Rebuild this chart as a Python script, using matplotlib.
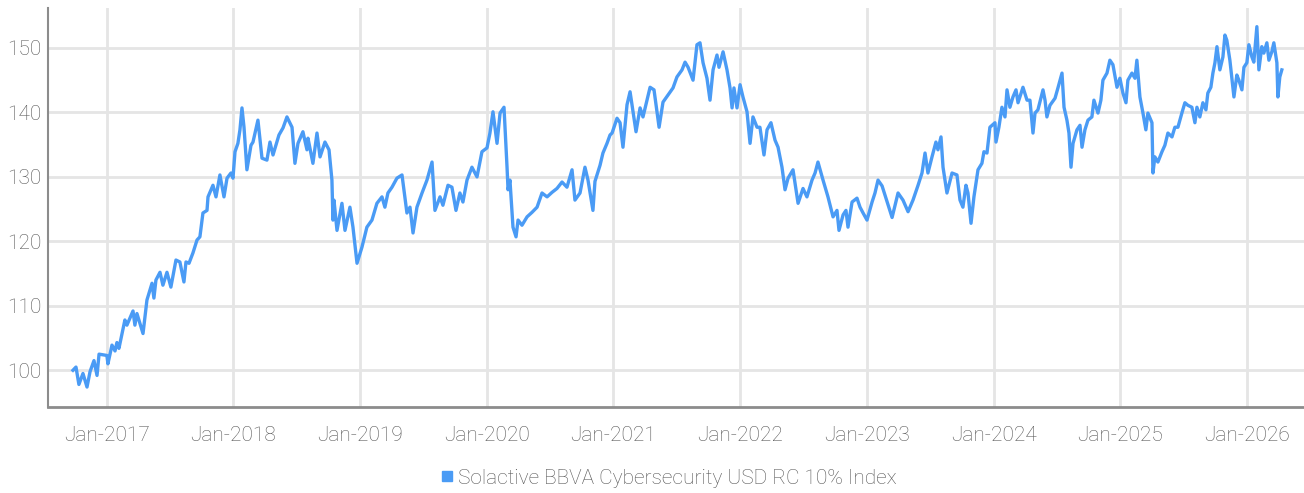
import matplotlib
matplotlib.use("Agg")
import matplotlib.pyplot as plt
from matplotlib.lines import Line2D
from matplotlib import font_manager

SERIES_NAME = "Solactive BBVA Cybersecurity USD RC 10% Index"
LINE_COLOR = "#4A9BF5"

# time in years after 1 Jan 2017
years_from_2017 = [
    -0.266, -0.242, -0.219, -0.187, -0.155, -0.131, -0.100, -0.076, -0.060, 0.002,
    0.010, 0.042, 0.066, 0.081, 0.097, 0.144, 0.160, 0.208, 0.223, 0.239,
    0.287, 0.318, 0.358, 0.373, 0.389, 0.421, 0.444, 0.476, 0.507, 0.547,
    0.578, 0.610, 0.626, 0.650, 0.681, 0.713, 0.736, 0.760, 0.792, 0.800,
    0.839, 0.863, 0.894, 0.926, 0.950, 0.981, 0.997, 1.013, 1.036, 1.052,
    1.068, 1.084, 1.107, 1.139, 1.155, 1.194, 1.226, 1.265, 1.289, 1.313,
    1.360, 1.392, 1.423, 1.463, 1.486, 1.510, 1.549, 1.581, 1.589, 1.628,
    1.660, 1.684, 1.723, 1.755, 1.778, 1.786, 1.794, 1.818, 1.857, 1.881,
    1.920, 1.944, 1.976, 2.015, 2.054, 2.094, 2.133, 2.173, 2.196, 2.220,
    2.252, 2.291, 2.331, 2.370, 2.394, 2.418, 2.449, 2.489, 2.528, 2.568,
    2.591, 2.631, 2.654, 2.694, 2.725, 2.757, 2.788, 2.812, 2.844, 2.883,
    2.923, 2.962, 3.002, 3.025, 3.049, 3.081, 3.105, 3.136, 3.160, 3.168,
    3.183, 3.207, 3.231, 3.247, 3.278, 3.318, 3.357, 3.397, 3.436, 3.476,
    3.515, 3.554, 3.594, 3.633, 3.673, 3.696, 3.736, 3.775, 3.799, 3.838,
    3.854, 3.894, 3.917, 3.949, 3.973, 3.989, 4.028, 4.052, 4.075, 4.107,
    4.131, 4.178, 4.210, 4.233, 4.289, 4.320, 4.360, 4.391, 4.431, 4.470,
    4.501, 4.541, 4.565, 4.589, 4.628, 4.659, 4.683, 4.707, 4.738, 4.762,
    4.786, 4.817, 4.833, 4.865, 4.896, 4.920, 4.936, 4.951, 4.975, 4.999,
    5.022, 5.054, 5.078, 5.101, 5.133, 5.156, 5.188, 5.212, 5.243, 5.275,
    5.299, 5.330, 5.354, 5.378, 5.417, 5.457, 5.496, 5.527, 5.567, 5.591,
    5.614, 5.654, 5.693, 5.733, 5.764, 5.780, 5.812, 5.835, 5.851, 5.883,
    5.922, 5.946, 5.970, 6.001, 6.041, 6.064, 6.088, 6.120, 6.159, 6.199,
    6.246, 6.285, 6.325, 6.364, 6.404, 6.435, 6.459, 6.482, 6.514, 6.545,
    6.561, 6.585, 6.601, 6.632, 6.672, 6.711, 6.735, 6.758, 6.782, 6.798,
    6.822, 6.845, 6.877, 6.908, 6.924, 6.948, 6.971, 7.011, 7.019, 7.042,
    7.066, 7.090, 7.106, 7.129, 7.153, 7.177, 7.193, 7.232, 7.264, 7.287,
    7.311, 7.327, 7.350, 7.390, 7.406, 7.421, 7.445, 7.485, 7.508, 7.540,
    7.556, 7.579, 7.595, 7.611, 7.627, 7.658, 7.682, 7.698, 7.721, 7.745,
    7.776, 7.792, 7.824, 7.847, 7.863, 7.895, 7.918, 7.942, 7.974, 7.997,
    8.021, 8.045, 8.060, 8.092, 8.116, 8.131, 8.155, 8.179, 8.202, 8.218,
    8.250, 8.258, 8.273, 8.297, 8.329, 8.352, 8.376, 8.408, 8.431, 8.455,
    8.486, 8.510, 8.534, 8.565, 8.589, 8.605, 8.628, 8.652, 8.676, 8.691,
    8.715, 8.731, 8.747, 8.763, 8.786, 8.810, 8.826, 8.841, 8.865, 8.889,
    8.897, 8.920, 8.936, 8.960, 8.976, 8.999, 9.015, 9.039, 9.054, 9.078,
    9.094, 9.117, 9.133, 9.157, 9.173, 9.196, 9.212, 9.236, 9.244, 9.259,
    9.275,
]

index_values = [
    100.0, 100.5, 97.8, 99.5, 97.4, 99.8, 101.5, 99.2, 102.5, 102.3,
    101.0, 103.9, 103.0, 104.3, 103.4, 107.8, 107.0, 109.2, 107.0, 108.8,
    105.7, 110.9, 113.5, 111.2, 114.0, 115.2, 113.2, 115.2, 112.9, 117.1,
    116.8, 113.7, 116.8, 116.6, 118.2, 120.2, 120.7, 124.4, 124.8, 126.9,
    128.7, 126.9, 130.3, 126.9, 129.8, 130.6, 129.8, 133.9, 135.2, 137.3,
    140.7, 137.7, 131.1, 134.9, 135.4, 138.8, 132.9, 132.6, 135.4, 133.4,
    136.5, 137.6, 139.3, 137.7, 132.1, 135.2, 137.0, 134.2, 136.0, 132.1,
    136.8, 133.1, 135.4, 134.2, 129.5, 123.3, 126.4, 121.7, 125.9, 121.7,
    125.3, 122.2, 116.6, 119.1, 122.2, 123.3, 125.9, 126.9, 125.3, 127.5,
    128.4, 129.8, 130.3, 124.4, 125.3, 121.3, 125.3, 127.5, 129.5, 132.3,
    124.8, 126.9, 125.6, 128.7, 128.4, 124.8, 127.5, 126.1, 129.5, 131.5,
    130.0, 133.9, 134.5, 136.8, 140.1, 135.2, 139.9, 140.8, 131.5, 128.0,
    129.5, 122.2, 120.7, 123.3, 122.5, 123.8, 124.5, 125.3, 127.5, 126.9,
    127.6, 128.2, 129.2, 128.4, 131.1, 126.4, 127.5, 131.5, 129.5, 124.8,
    129.3, 131.8, 133.7, 135.2, 136.5, 136.8, 139.1, 138.4, 134.6, 141.2,
    143.2, 137.0, 140.7, 139.3, 143.9, 143.5, 137.7, 141.6, 142.7, 143.8,
    145.5, 146.6, 147.8, 147.0, 145.0, 150.5, 150.8, 147.7, 145.3, 141.9,
    146.6, 148.9, 147.0, 149.4, 146.6, 143.8, 140.7, 143.8, 140.7, 144.3,
    142.4, 140.1, 135.2, 139.3, 137.7, 137.7, 133.4, 137.3, 138.4, 135.7,
    134.6, 131.5, 128.0, 129.8, 131.1, 125.9, 128.2, 126.9, 129.5, 130.6,
    132.3, 129.5, 126.9, 123.8, 124.8, 121.7, 124.1, 124.8, 122.2, 126.1,
    126.7, 125.3, 124.4, 123.3, 126.1, 127.5, 129.5, 128.6, 126.2, 123.7,
    127.5, 126.4, 124.6, 126.4, 128.7, 130.6, 133.7, 130.6, 133.1, 135.4,
    134.2, 136.2, 131.5, 127.5, 130.6, 130.3, 126.4, 125.3, 128.7, 127.5,
    122.8, 126.9, 131.1, 132.1, 133.9, 133.7, 137.7, 138.4, 135.4, 137.7,
    140.8, 139.3, 143.5, 140.8, 142.4, 143.5, 141.5, 143.9, 141.9, 141.9,
    136.8, 139.9, 140.4, 143.5, 141.9, 139.3, 141.1, 142.2, 143.8, 146.1,
    140.8, 138.8, 136.8, 131.5, 135.2, 137.3, 138.0, 134.6, 137.3, 138.8,
    139.3, 141.9, 139.9, 141.9, 145.0, 146.1, 148.1, 147.4, 143.9, 145.3,
    143.0, 141.5, 145.0, 146.1, 145.3, 148.1, 142.4, 139.9, 137.3, 139.9,
    138.4, 130.6, 133.1, 132.3, 133.9, 134.9, 136.8, 136.2, 137.7, 137.7,
    139.9, 141.5, 141.1, 140.8, 138.4, 140.8, 139.3, 141.5, 140.4, 143.0,
    143.9, 146.1, 147.7, 150.2, 146.6, 148.6, 152.0, 151.2, 148.1, 143.9,
    142.4, 145.8, 145.0, 143.5, 147.0, 147.7, 150.5, 148.6, 147.8, 153.3,
    146.6, 150.2, 149.2, 150.8, 148.1, 149.4, 150.8, 147.7, 142.4, 145.5,
    146.6,
]

tick_years = list(range(2017, 2027))
tick_labels = [f"Jan-{y}" for y in tick_years]
y_ticks = [100, 110, 120, 130, 140, 150]


def pick_font():
    installed = {f.name for f in font_manager.fontManager.ttflist}
    for name in ["Liberation Sans Narrow", "Roboto", "DejaVu Sans"]:
        if name in installed:
            return name
    return "DejaVu Sans"


plt.rcParams["font.family"] = [pick_font(), "DejaVu Sans"]
plt.rcParams["font.weight"] = "light"

fig = plt.figure(figsize=(13.04, 4.93), dpi=100)
ax = fig.add_axes([0.0368, 0.1744, 0.9632, 0.8094])

x_vals = [2017 + t for t in years_from_2017]
ax.plot(x_vals, index_values, color=LINE_COLOR, linewidth=2.4, solid_joinstyle="round")

ax.set_xlim(2016.537, 2026.45)
ax.set_ylim(94.3, 156.2)
ax.set_xticks(tick_years)
ax.set_xticklabels(tick_labels)
ax.set_yticks(y_ticks)

ax.grid(True, color="#e5e5e5", linewidth=2.0)
ax.set_axisbelow(True)

for side in ["top", "right"]:
    ax.spines[side].set_visible(False)
ax.spines["left"].set_color("#8c8c8c")
ax.spines["left"].set_linewidth(1.5)
ax.spines["bottom"].set_color("#8c8c8c")
ax.spines["bottom"].set_linewidth(2.0)

ax.tick_params(axis="both", length=0, labelsize=15, colors="#555555")
ax.tick_params(axis="x", pad=14)
ax.tick_params(axis="y", pad=5)

handle = Line2D([], [], color=LINE_COLOR, marker="s", linestyle="none", markersize=7)
fig.legend([handle], [SERIES_NAME], loc="center", bbox_to_anchor=(0.512, 0.03),
           frameon=False, fontsize=15, handletextpad=0.1, handlelength=0.8,
           labelcolor="#555555")

fig.savefig("out.png", dpi=100)
